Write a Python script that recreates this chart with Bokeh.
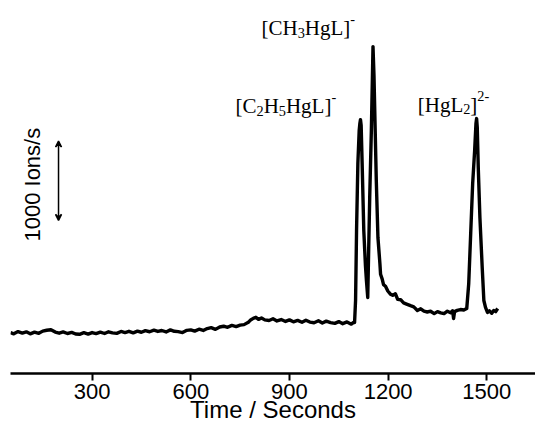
from bokeh.plotting import figure
from bokeh.models import Range1d, FixedTicker, Label, Arrow, VeeHead
from bokeh.embed import file_html
from bokeh.resources import INLINE

# ---- data ----
time_s = [
    52, 62, 75, 88, 100, 112, 125, 138, 150, 162, 175, 188, 200, 212, 225, 238,
    250, 262, 275, 288, 300, 312, 325, 338, 350, 362, 375, 388, 400, 412, 425,
    438, 450, 462, 475, 488, 500, 512, 525, 538, 550, 562, 575, 588, 600, 612,
    625, 638, 650, 662, 675, 688, 700, 712, 725, 738, 750, 762, 775, 782, 790,
    798, 806, 815, 825, 838, 850, 862, 875, 888, 900, 912, 925, 938, 950, 962,
    975, 988, 1000, 1012, 1025, 1038, 1050, 1062, 1075, 1088, 1095,
    1098, 1101, 1104, 1108, 1112, 1114, 1116, 1118, 1121, 1126, 1131, 1134, 1138,
    1141, 1144, 1149, 1152, 1154, 1157, 1160, 1164, 1169, 1175, 1177, 1182, 1186,
    1192, 1199, 1207, 1214, 1222, 1229, 1238, 1247, 1256, 1268, 1278, 1289, 1299,
    1309, 1319, 1329, 1340, 1350, 1360, 1370, 1380, 1390, 1396, 1399, 1402, 1410,
    1420, 1430, 1439, 1445, 1451, 1457, 1463, 1467, 1469, 1471, 1474, 1479, 1486,
    1491, 1496, 1502, 1508, 1515, 1521, 1527, 1533,
]
ions_per_s = [
    515, 500, 528, 510, 525, 500, 522, 506, 534, 545, 552, 522, 508, 524, 504, 518,
    498, 494, 514, 496, 516, 502, 522, 504, 526, 512, 506, 530, 516, 532, 512,
    534, 520, 540, 526, 546, 530, 542, 524, 550, 532, 528, 516, 544, 550, 534,
    558, 542, 566, 578, 556, 586, 596, 582, 606, 592, 610, 616, 645, 675, 695,
    708, 682, 700, 676, 668, 690, 662, 680, 656, 676, 652, 670, 646, 672, 648,
    640, 664, 636, 660, 642, 632, 654, 628, 650, 622, 645,
    643, 920, 1802, 2646, 3062, 3150, 3200, 3125, 2646, 1802, 1361, 1172, 958,
    1588, 2218, 3062, 3692, 4120, 3755, 3188, 2432, 1714, 1386, 1250, 1190, 1120,
    1100, 1040, 1000, 985, 1005, 935, 930, 890, 875, 855, 840, 795, 815,
    785, 775, 785, 755, 780, 765, 755, 785, 765, 790, 693, 780, 795,
    806, 800, 819, 1134, 1764, 2394, 2810, 3150, 3213, 3100, 2596, 1966, 1336,
    920, 832, 769, 790, 760, 794, 780, 819,
]
x_ticks = [300, 600, 900, 1200, 1500]
x_label = "Time / Seconds"
bar_time = 198
bar_low, bar_high = 1930, 2930
bar_label = "1000 Ions/s"
# peak labels: (time anchor, ions anchor, pieces)
peak_labels = [
    (815, 4352, [("[CH", "n"), ("3", "sub"), ("HgL]", "n"), ("-", "sup")]),
    (736, 3369, [("[C", "n"), ("2", "sub"), ("H", "n"), ("5", "sub"), ("HgL]", "n"), ("-", "sup")]),
    (1290, 3390, [("[HgL", "n"), ("2", "sub"), ("]", "n"), ("2-", "sup")]),
]

p = figure(width=535, height=439, output_backend="svg", toolbar_location=None,
           x_range=Range1d(52, 1648), y_range=Range1d(0, 4701),
           y_axis_location=None, min_border_left=10, min_border_right=0,
           min_border_top=0, min_border_bottom=66)
p.outline_line_color = None
p.grid.visible = False
p.background_fill_color = "white"

p.line(time_s, ions_per_s, line_color="black", line_width=3.4, line_join="round")

ax = p.xaxis[0]
ax.ticker = FixedTicker(ticks=x_ticks)
ax.minor_tick_line_color = None
ax.major_tick_in = 0
ax.major_tick_out = 7
ax.major_tick_line_width = 2
ax.axis_line_width = 2.5
ax.axis_line_color = "black"
ax.major_tick_line_color = "black"
ax.major_label_standoff = 3
ax.major_label_text_font = "Liberation Sans"
ax.major_label_text_font_size = "22px"
ax.major_label_text_color = "black"
ax.axis_label = x_label
ax.axis_label_text_font = "Liberation Sans"
ax.axis_label_text_font_size = "24px"
ax.axis_label_text_font_style = "normal"
ax.axis_label_text_color = "black"
ax.axis_label_standoff = -6

# scale bar
p.add_layout(Arrow(x_start=bar_time, y_start=bar_low, x_end=bar_time, y_end=bar_high,
                   line_width=1.5, line_color="black",
                   start=VeeHead(size=6, line_color="black", line_width=1.5),
                   end=VeeHead(size=6, line_color="black", line_width=1.5)))
p.add_layout(Label(x=119, y=(bar_low + bar_high) / 2 - 50, text=bar_label, angle=1.5708,
                   text_align="center", text_baseline="middle",
                   text_font="Liberation Sans", text_font_size="22px", text_color="black"))

# peak labels with sub/superscripts
W = {'[': 333, ']': 333, 'C': 667, 'H': 722, 'g': 500, 'L': 611, '2': 500,
     '3': 500, '5': 500, '-': 333}
size = 21.0
for tx, ty, pieces in peak_labels:
    off = 0.0
    for txt, kind in pieces:
        fs = size if kind == "n" else size * 0.68
        yo = 0.0 if kind == "n" else (-0.22 * size if kind == "sub" else 0.42 * size)
        p.add_layout(Label(x=tx, y=ty, x_offset=off, y_offset=yo, text=txt,
                           text_align="left", text_baseline="alphabetic",
                           text_font="Liberation Serif", text_font_size=f"{fs:.1f}px",
                           text_color="black"))
        off += sum(W.get(c, 500) for c in txt) / 1000.0 * fs

open("out.html", "w").write(file_html(p, INLINE))
